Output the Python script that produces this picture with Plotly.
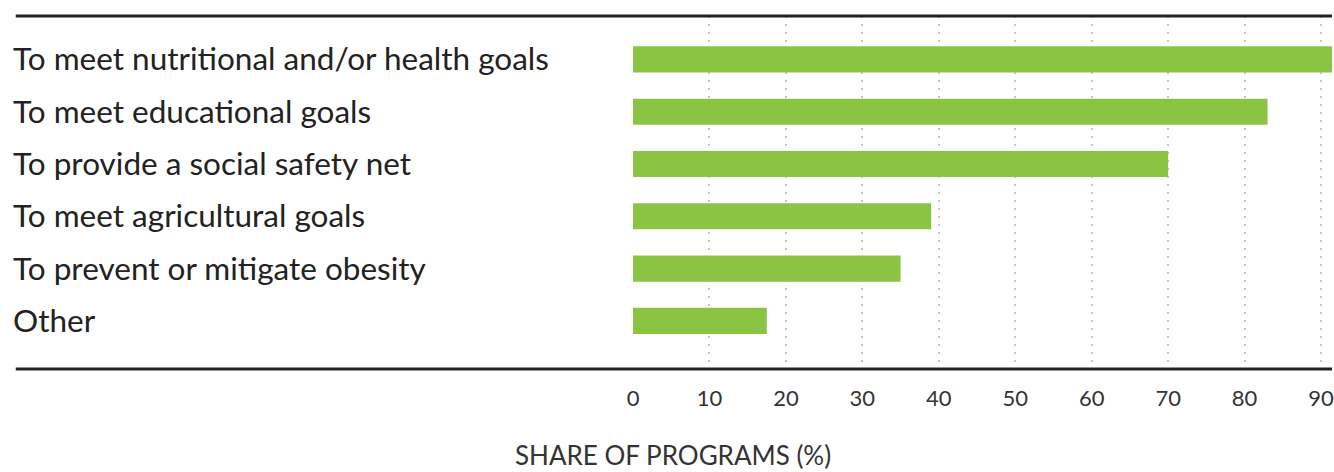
import plotly.graph_objects as go

categories = [
    "To meet nutritional and/or health goals",
    "To meet educational goals",
    "To provide a social safety net",
    "To meet agricultural goals",
    "To prevent or mitigate obesity",
    "Other",
]
values = [93, 83, 70, 39, 35, 17.5]
tick_vals = [0, 10, 20, 30, 40, 50, 60, 70, 80, 90]
axis_title = "SHARE OF PROGRAMS (%)"

W, H = 1334, 472
L, R, T, B = 633, 0, 16, 103
pw = W - L - R
ph = H - T - B

def px_to_paper(px):
    return (px - L) / pw

def py_to_paper(py):
    return (H - B - py) / ph

FONT = "Lato, Open Sans, sans-serif"

fig = go.Figure()
fig.add_trace(go.Bar(
    x=values,
    y=list(range(len(categories))),
    orientation="h",
    marker=dict(color="#8BC443", line=dict(width=0)),
    width=0.5,
    hoverinfo="skip",
))

for i, c in enumerate(categories):
    fig.add_annotation(
        x=px_to_paper(9), xref="paper", y=i, yref="y",
        text=c, showarrow=False, xanchor="left", yanchor="middle",
        yshift=1,
        font=dict(family=FONT, size=31.5, color="#222222"),
    )

fig.add_annotation(
    x=px_to_paper(673), xref="paper", y=py_to_paper(455), yref="paper",
    text=axis_title, showarrow=False, xanchor="center", yanchor="middle",
    font=dict(family=FONT, size=26, color="#333333"),
)

for ypos in (1, 0):
    fig.add_shape(type="line", xref="paper", yref="paper",
                  x0=px_to_paper(14), x1=1, y0=ypos, y1=ypos,
                  line=dict(color="#222222", width=3), layer="above")

fig.update_layout(
    width=W, height=H,
    margin=dict(l=L, r=R, t=T, b=B),
    paper_bgcolor="white", plot_bgcolor="white",
    showlegend=False,
    xaxis=dict(
        range=[0, 91.43], tickvals=tick_vals, showgrid=True,
        gridcolor="#C4C4C4", griddash="2px,6px", gridwidth=2,
        zeroline=False, showline=False, ticks="",
        ticklabelstandoff=14, ticklabeloverflow="allow",
        tickfont=dict(family=FONT, size=22, color="#333333"),
    ),
    yaxis=dict(
        range=[5.92, -0.83], showticklabels=False, showgrid=False,
        zeroline=False, showline=False, ticks="",
    ),
)

fig.write_html(
    "out.html",
    config={"displayModeBar": False},
    post_script="document.body.style.margin='0';document.body.style.overflow='hidden';",
)
